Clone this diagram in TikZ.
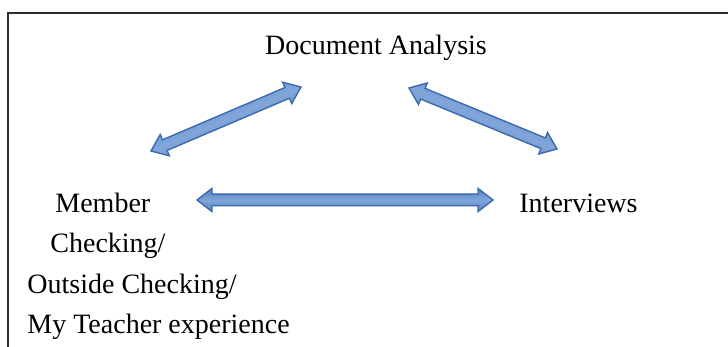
\documentclass[tikz,border=0pt]{standalone}
\usepackage{fontspec}
\setmainfont{Liberation Serif}
\usetikzlibrary{calc}
\definecolor{arrowfill}{RGB}{82,128,194}
\definecolor{arrowlight}{RGB}{128,166,218}
\definecolor{arrowline}{RGB}{62,106,170}
\definecolor{framegray}{RGB}{45,45,45}
\newcommand\headlen{7.5pt}
\newcommand\headwd{5.8pt}
\newcommand\shaftwd{2.9pt}
% double block arrow between two named coordinates
\newcommand\dblarrow[3][]{%
  \path[blockarrow,#1] (#2)
    -- ($(#2)!\headlen!(#3)!\headwd!90:(#3)$)
    -- ($(#2)!\headlen!(#3)!\shaftwd!90:(#3)$)
    -- ($(#3)!\headlen!(#2)!\shaftwd!-90:(#2)$)
    -- ($(#3)!\headlen!(#2)!\headwd!-90:(#2)$)
    -- (#3)
    -- ($(#3)!\headlen!(#2)!\headwd!90:(#2)$)
    -- ($(#3)!\headlen!(#2)!\shaftwd!90:(#2)$)
    -- ($(#2)!\headlen!(#3)!\shaftwd!-90:(#3)$)
    -- ($(#2)!\headlen!(#3)!\headwd!-90:(#3)$)
    -- cycle;}
\begin{document}
\begin{tikzpicture}[x=0.5pt,y=-0.5pt,
  txt/.style={font=\fontsize{14}{20}\selectfont, inner sep=0pt, anchor=base west},
  blockarrow/.style={draw=arrowline, line width=0.7pt, top color=arrowfill, bottom color=arrowfill, middle color=arrowlight}]
\useasboundingbox (0,0) rectangle (728,347);
\draw[framegray, line width=1pt] (8,347) -- (8,13) -- (728,13);
\node[txt, anchor=base] (doc) at (376,55) {Document Analysis};
\node[txt] (member) at (55,213) {Member};
\node[txt] (checking) at (50,253) {Checking/};
\node[txt] (outside) at (27,293) {Outside Checking/};
\node[txt] (teacher) at (27,333) {My Teacher experience};
\node[txt] (interviews) at (519,213) {Interviews};
\coordinate (la) at (151,151);
\coordinate (lb) at (301,87);
\coordinate (ra) at (409,88);
\coordinate (rb) at (557,149);
\coordinate (ha) at (197,200);
\coordinate (hb) at (493,200);
\dblarrow[shading angle=23.1]{la}{lb}
\dblarrow[shading angle=-22.4]{ra}{rb}
\dblarrow{ha}{hb}
\end{tikzpicture}
\end{document}
